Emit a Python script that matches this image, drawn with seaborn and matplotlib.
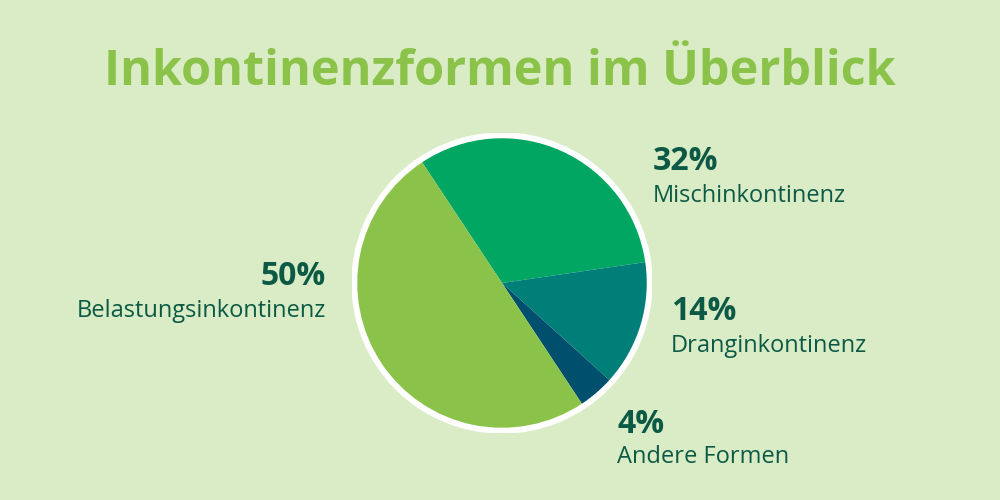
import matplotlib
matplotlib.use("Agg")
import matplotlib.pyplot as plt
import seaborn as sns
from matplotlib.patches import Circle

# data (clockwise from the top-left boundary)
labels = ["Mischinkontinenz", "Dranginkontinenz", "Andere Formen", "Belastungsinkontinenz"]
shares = [32, 14, 4, 50]
colors = ["#00a661", "#007f79", "#00506d", "#8bc34a"]

title = "Inkontinenzformen im Überblick"
bg = "#d9ecc6"
dark = "#0c5a45"

sns.set_theme(style="white", rc={"figure.facecolor": bg, "axes.facecolor": bg})
plt.rcParams["font.family"] = ["Open Sans", "DejaVu Sans"]

fig = plt.figure(figsize=(10, 5), dpi=100)
W, H = 1000, 500

# pie centred at pixel (502, 283), outer white ring radius 150 px
cx, cy, R = 502, 283, 150
ax = fig.add_axes([(cx - R) / W, (H - cy - R) / H, 2 * R / W, 2 * R / H])
ax.add_patch(Circle((0, 0), 1.0, color="white", zorder=0))
ax.pie(shares, colors=colors, startangle=123.5, counterclock=False,
       radius=0.965, wedgeprops={"linewidth": 0})
ax.set_xlim(-1, 1)
ax.set_ylim(-1, 1)
ax.set_aspect("equal")
ax.axis("off")


def px(x, y):
    return x / W, 1 - y / H


fig.text(*px(500, 85), title, ha="center", va="baseline", fontsize=35,
         fontweight="bold", color="#8bc34a")

# label positions in pixels: (x, baseline of pct, baseline of name, align)
label_pos = {
    "Mischinkontinenz": (653, 170, 202, "left"),
    "Dranginkontinenz": (671, 320, 352, "left"),
    "Andere Formen": (617, 433, 463, "left"),
    "Belastungsinkontinenz": (326, 285, 317, "right"),
}
for name, val in zip(labels, shares):
    x, y1, y2, ha = label_pos[name]
    fig.text(*px(x, y1), f"{val}%", ha=ha, va="baseline", fontsize=23,
             fontweight="bold", color=dark)
    fig.text(*px(x, y2), name, ha=ha, va="baseline", fontsize=17, color=dark)

fig.savefig("out.png", dpi=100, facecolor=bg)
